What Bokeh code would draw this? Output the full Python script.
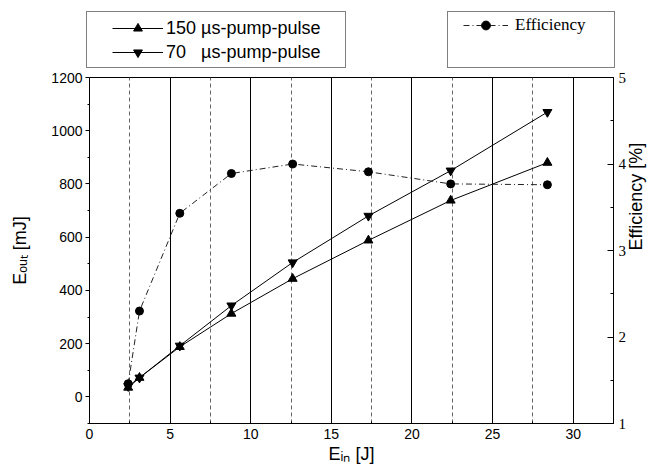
from math import pi
from bokeh.plotting import figure
from bokeh.layouts import column
from bokeh.models import Range1d, LinearAxis, FixedTicker, Legend, LegendItem
from bokeh.embed import file_html
from bokeh.resources import INLINE

# ---- data ----
e_in = [2.4, 3.1, 5.6, 8.8, 12.6, 17.3, 22.4, 28.4]
e_out_150 = [35, 72, 188, 313, 444, 588, 738, 880]
e_out_70 = [40, 72, 192, 343, 505, 680, 850, 1070]
efficiency = [1.46, 2.30, 3.43, 3.89, 4.00, 3.91, 3.77, 3.76]

x_ticks = [0, 5, 10, 15, 20, 25, 30]
x_minor = [2.5, 7.5, 12.5, 17.5, 22.5, 27.5]
y_ticks = [0, 200, 400, 600, 800, 1000, 1200]
y_minor = [-100, 100, 300, 500, 700, 900, 1100]
eff_ticks = [1, 2, 3, 4, 5]
eff_minor = [1.5, 2.5, 3.5, 4.5]

label_150 = "150 µs-pump-pulse"
label_70 = "70\u2007 µs-pump-pulse"
label_eff = "Efficiency"
x_title = "E\u1d62\u2099 [J]"
y_title = "E\u2092\u1d64\u209c [mJ]"
y2_title = "Efficiency [%]"

SANS = "Liberation Sans"
SERIF = "Liberation Serif"

W = 659
TOP_H = 69
MAIN_H = 402

# styles shared by the plot and the legend strip
st150 = dict(line_color="black", line_width=1)
mk150 = dict(marker="triangle", size=9, color="black")
st70 = dict(line_color="black", line_width=1)
mk70 = dict(marker="inverted_triangle", size=9, color="black")
steff = dict(line_color="#222222", line_width=1, line_dash="6 3 1 3")
mkeff = dict(marker="circle", size=8, color="black")

# ---------------- main plot ----------------
p = figure(width=W, height=MAIN_H, x_range=Range1d(0, 32.5), y_range=Range1d(-100, 1200),
           output_backend="svg", toolbar_location=None,
           min_border_left=89, min_border_right=46, min_border_top=8, min_border_bottom=48)
p.extra_y_ranges = {"eff": Range1d(1, 5)}
p.outline_line_color = "black"
p.outline_line_width = 1

xt = FixedTicker(ticks=x_ticks, minor_ticks=x_minor)
xax = p.below[0]
xax.ticker = xt
xax.axis_line_color = "black"
xax.major_tick_in = 4
xax.major_tick_out = 0
xax.minor_tick_in = 2
xax.minor_tick_out = 0
xax.major_label_standoff = 5
xax.major_label_text_font = SANS
xax.major_label_text_font_size = "14px"
xax.major_label_text_color = "black"
xax.axis_label = x_title
xax.axis_label_standoff = 2
xax.axis_label_text_font = SANS
xax.axis_label_text_font_size = "18px"
xax.axis_label_text_font_style = "normal"
xax.axis_label_text_color = "black"

yt = FixedTicker(ticks=y_ticks, minor_ticks=y_minor)
yax = p.left[0]
yax.ticker = yt
yax.axis_line_color = "black"
yax.major_tick_in = 0
yax.major_tick_out = 4
yax.minor_tick_in = 0
yax.minor_tick_out = 2
yax.major_label_standoff = 3
yax.major_label_text_font = SANS
yax.major_label_text_font_size = "14px"
yax.major_label_text_color = "black"
yax.axis_label = y_title
yax.axis_label_standoff = 18
yax.axis_label_text_font = SANS
yax.axis_label_text_font_size = "18px"
yax.axis_label_text_font_style = "normal"
yax.axis_label_text_color = "black"

rax = LinearAxis(y_range_name="eff", ticker=FixedTicker(ticks=eff_ticks, minor_ticks=eff_minor))
rax.axis_line_color = "black"
rax.major_tick_in = 6
rax.major_tick_out = 0
rax.minor_tick_in = 3
rax.minor_tick_out = 0
rax.major_label_standoff = 5
rax.major_label_text_font = SERIF
rax.major_label_text_font_size = "15px"
rax.major_label_text_color = "black"
rax.axis_label = y2_title
rax.axis_label_standoff = 7
rax.axis_label_orientation = pi / 2
rax.axis_label_text_font = SANS
rax.axis_label_text_font_size = "18px"
rax.axis_label_text_font_style = "normal"
rax.axis_label_text_color = "black"
p.add_layout(rax, "right")

p.xgrid.ticker = xt
p.xgrid.grid_line_color = "black"
p.xgrid.grid_line_width = 1
p.xgrid.minor_grid_line_color = "#666666"
p.xgrid.minor_grid_line_dash = "4 3"
p.xgrid.minor_grid_line_width = 1
p.ygrid.visible = False

p.line(e_in, e_out_150, **st150)
p.scatter(e_in, e_out_150, **mk150)
p.line(e_in, e_out_70, **st70)
p.scatter(e_in, e_out_70, **mk70)
p.line(e_in, efficiency, y_range_name="eff", **steff)
p.scatter(e_in, efficiency, y_range_name="eff", **mkeff)

# ---------------- legend strip above the plot ----------------
t = figure(width=W, height=TOP_H, x_range=Range1d(0, 1), y_range=Range1d(0, 1),
           output_backend="svg", toolbar_location=None, x_axis_type=None, y_axis_type=None,
           min_border=0)
t.frame_align = False
t.outline_line_color = None
t.grid.visible = False

# proxies for the legend glyphs (the data lies outside this strip's ranges, so nothing shows)
g150 = [t.line(e_in, e_out_150, **st150), t.scatter(e_in, e_out_150, **mk150)]
g70 = [t.line(e_in, e_out_70, **st70), t.scatter(e_in, e_out_70, **mk70)]
geff = [t.line(e_in, efficiency, **steff), t.scatter(e_in, efficiency, **mkeff)]

box_l = Legend(items=[LegendItem(label=" ", renderers=[])], location=(86, 1), padding=0, spacing=0,
               margin=0, glyph_width=1, glyph_height=1, label_standoff=0, label_width=257,
               label_height=55, border_line_color="black", border_line_width=1,
               background_fill_color="white", background_fill_alpha=1, label_text_font_size="1px")
box_r = Legend(items=[LegendItem(label=" ", renderers=[])], location=(447, 1), padding=0, spacing=0,
               margin=0, glyph_width=1, glyph_height=1, label_standoff=0, label_width=165,
               label_height=55, border_line_color="black", border_line_width=1,
               background_fill_color="white", background_fill_alpha=1, label_text_font_size="1px")
t.add_layout(box_l, "center")
t.add_layout(box_r, "center")

leg_l = Legend(items=[LegendItem(label=label_150, renderers=g150),
                      LegendItem(label=label_70, renderers=g70)],
               location=(112, 6), padding=0, spacing=2, margin=0, glyph_width=51, glyph_height=22,
               label_height=22, label_standoff=3, border_line_alpha=0, background_fill_alpha=0,
               label_text_font=SANS, label_text_font_size="18px", label_text_color="black")
leg_r = Legend(items=[LegendItem(label=label_eff, renderers=geff)],
               location=(463, 33), padding=0, spacing=0, margin=0, glyph_width=45, glyph_height=22,
               label_height=22, label_standoff=7, border_line_alpha=0, background_fill_alpha=0,
               label_text_font=SERIF, label_text_font_size="17px", label_text_color="black")
t.add_layout(leg_l, "center")
t.add_layout(leg_r, "center")

layout = column(t, p, spacing=0)
open("out.html", "w").write(file_html(layout, INLINE))
